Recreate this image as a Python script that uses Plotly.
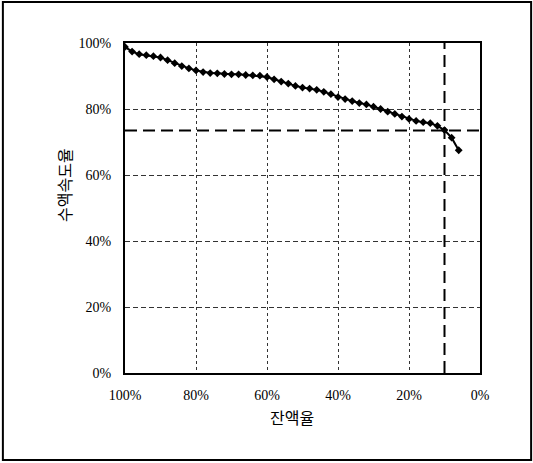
import plotly.graph_objects as go

# Data: remaining-liquid ratio (x, %) vs infusion-speed ratio (y, %)
remain_pct = [100, 98, 96, 94, 92, 90, 88, 86, 84, 82, 80, 78, 76, 74, 72, 70, 68, 66, 64, 62,
              60, 58, 56, 54, 52, 50, 48, 46, 44, 42, 40, 38, 36, 34, 32, 30, 28, 26, 24, 22,
              20, 18, 16, 14, 12, 10, 8, 6]
speed_pct = [98.8, 97.4, 96.6, 96.3, 96.0, 95.6, 94.8, 93.9, 93.0, 92.3, 91.7, 91.2, 90.9, 90.8,
             90.6, 90.5, 90.5, 90.3, 90.2, 90.1, 89.7, 89.0, 88.3, 87.7, 87.0, 86.5, 86.2, 85.8,
             85.2, 84.5, 83.6, 83.0, 82.4, 81.8, 81.4, 80.7, 80.0, 79.2, 78.5, 77.7, 77.0, 76.4,
             76.0, 75.7, 74.9, 73.6, 71.3, 67.5]

ref_speed = 73.5   # horizontal reference line
ref_remain = 10    # vertical reference line

tick_vals = [0, 20, 40, 60, 80, 100]
tick_text = ["0%", "20%", "40%", "60%", "80%", "100%"]

x_title = "잔액율"
y_title = "수액속도율"

fig = go.Figure()
fig.add_trace(go.Scatter(
    x=remain_pct, y=speed_pct, mode="lines+markers",
    line=dict(color="black", width=2),
    marker=dict(color="black", size=6, symbol="diamond"),
    showlegend=False, hoverinfo="skip"))

fig.add_shape(type="line", xref="x", yref="y", x0=100, x1=0, y0=ref_speed, y1=ref_speed,
              line=dict(color="black", width=2, dash="12px,6px"), layer="above")
fig.add_shape(type="line", xref="x", yref="y", x0=ref_remain, x1=ref_remain, y0=0, y1=100,
              line=dict(color="black", width=2, dash="12px,6px"), layer="above")

# outer border of the figure
fig.add_shape(type="rect", xref="paper", yref="paper",
              x0=-0.344, x1=1.144, y0=-0.264, y1=1.124,
              line=dict(color="black", width=2), fillcolor="rgba(0,0,0,0)")

tick_font = dict(family="Liberation Serif", size=14, color="black")

fig.update_xaxes(range=[100, 0], tickvals=tick_vals, ticktext=tick_text,
                 showline=True, linecolor="black", linewidth=2, mirror=True,
                 showgrid=True, gridcolor="#333", gridwidth=1, griddash="3px,3px",
                 zeroline=False, ticks="", tickfont=tick_font, ticklabelstandoff=8)
fig.update_yaxes(range=[0, 100], tickvals=tick_vals, ticktext=tick_text,
                 showline=True, linecolor="black", linewidth=2, mirror=True,
                 showgrid=True, gridcolor="#333", gridwidth=1, griddash="5px,3px",
                 zeroline=False, ticks="", tickfont=tick_font, ticklabelstandoff=9)

fig.add_annotation(text=x_title, xref="paper", yref="paper", x=0.47, y=-0.175,
                   showarrow=False, font=dict(family="Noto Sans CJK KR", size=16, color="black"))
fig.add_annotation(text=y_title, xref="paper", yref="paper", x=-0.211, y=0.57,
                   textangle=-90, showarrow=False,
                   font=dict(family="Noto Sans CJK KR", size=16, color="black"))

fig.update_layout(width=533, height=463, margin=dict(l=125, r=53, t=43, b=90),
                  paper_bgcolor="white", plot_bgcolor="white", hovermode=False)

fig.write_html("out.html", config={"displayModeBar": False, "staticPlot": True},
               post_script="document.body.style.margin='0px';document.body.style.overflow='hidden';")
